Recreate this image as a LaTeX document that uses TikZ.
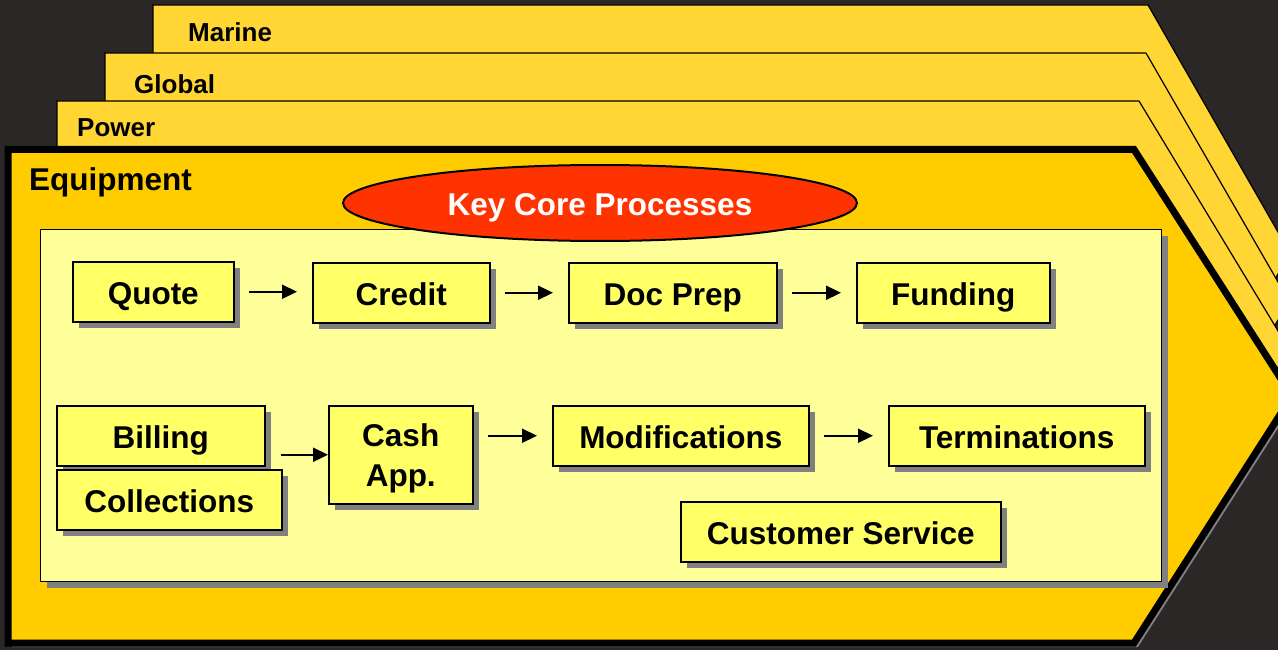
\documentclass[tikz,border=0pt]{standalone}
\usepackage{fontspec}
\setmainfont{Liberation Sans}
\usetikzlibrary{arrows.meta}
\usetikzlibrary{shapes.geometric}
\usetikzlibrary{shadows}

\definecolor{stone}{HTML}{2B2727}
\definecolor{backgold}{HTML}{FFD633}
\definecolor{frontgold}{HTML}{FFCC00}
\definecolor{panelyellow}{HTML}{FFFF99}
\definecolor{boxyellow}{HTML}{FFFF66}
\definecolor{boxshadow}{HTML}{808080}
\definecolor{keyred}{HTML}{FF3300}

\begin{document}
\begin{tikzpicture}[
        x=1pt, y=-1pt,
        layer/.style={fill=backgold,draw=black,line width=1.2pt},
        tablabel/.style={anchor=base west,inner sep=0pt,font=\fontsize{26}{30}\selectfont\bfseries},
        procbox/.style={rectangle,draw=black,line width=1.5pt,fill=boxyellow,anchor=north west,inner sep=0pt,
            minimum height=60pt,align=center,font=\fontsize{31.5}{40}\selectfont\bfseries,
            text height=26pt,text depth=0pt,
            drop shadow={shadow xshift=6pt,shadow yshift=-6pt,fill=boxshadow,opacity=1}},
        flow/.style={line width=2.2pt,-{Triangle[length=15pt,width=14pt]},shorten <=14pt,shorten >=15pt},
        ]
        \useasboundingbox (0,0) rectangle (1278,650);
        \fill[stone] (0,0) rectangle (1278,650);
        \clip (0,0) rectangle (1278,650);

        % business lines stacked behind
        \filldraw[layer] (153,501) -- (153,5) -- (1148,5) -- (1290,253) -- (1148,501) -- cycle;
        \filldraw[layer] (105,549) -- (105,53) -- (1146,53) -- (1289,301) -- (1146,549) -- cycle;
        \filldraw[layer] (57,597) -- (57,101) -- (1139,101) -- (1289,349) -- (1139,597) -- cycle;
        \node[tablabel](marine) at (188,42){Marine};
        \node[tablabel](global) at (134,94){Global};
        \node[tablabel](power) at (77,137){Power};

        % front line
        \fill[boxshadow] (12,647) -- (12,153) -- (1138,153) -- (1296,400) -- (1138,647) -- cycle;
        \filldraw[fill=frontgold,draw=black,line width=7pt] (8,643) -- (8,149.5) -- (1134,149.5) -- (1292,396) -- (1134,643) -- cycle;
        \node[tablabel,font=\fontsize{31.5}{36}\selectfont\bfseries](equip) at (29,190){Equipment};

        \node[rectangle,draw=black,line width=1.2pt,fill=panelyellow,anchor=north west,inner sep=0pt,
            minimum width=1121pt,minimum height=352pt,
            drop shadow={shadow xshift=6pt,shadow yshift=-6pt,fill=boxshadow,opacity=1}](core) at (40,229){};
        \node[ellipse,draw=black,line width=2pt,fill=keyred,text=white,inner sep=0pt,text height=25pt,text depth=0pt,
            minimum width=514pt,minimum height=76pt,font=\fontsize{31.5}{36}\selectfont\bfseries](keycore) at (600,203){Key Core Processes};

        \node[procbox,minimum width=161pt](quote) at (72,261){Quote};
        \node[procbox,minimum width=177pt](credit) at (312,262){Credit};
        \node[procbox,minimum width=208pt](docprep) at (568,262){Doc Prep};
        \node[procbox,minimum width=193pt](funding) at (856,262){Funding};

        \node[procbox,minimum width=208pt](billing) at (56,405){Billing};
        \node[procbox,minimum width=225pt](collect) at (56,469){Collections};
        \node[procbox,minimum width=144pt,minimum height=98pt,text height=,text depth=0pt](cashapp) at (328,405){Cash\\App.};
        \node[procbox,minimum width=256pt](mods) at (552,405){Modifications};
        \node[procbox,minimum width=256pt](terms) at (888,405){Terminations};
        \node[procbox,minimum width=320pt](custserv) at (680,501){Customer Service};

        \draw[flow] (quote.east) -- (quote.east -| credit.west);
        \draw[flow] (credit.east) -- (credit.east -| docprep.west);
        \draw[flow] (docprep.east) -- (docprep.east -| funding.west);
        \draw[flow,shorten <=15pt,shorten >=0pt] (billing.east |- cashapp.west) -- (cashapp.west);
        \draw[flow] (cashapp.east |- mods.west) -- (mods.west);
        \draw[flow] (mods.east) -- (terms.west);

        \end{tikzpicture}
\end{document}
